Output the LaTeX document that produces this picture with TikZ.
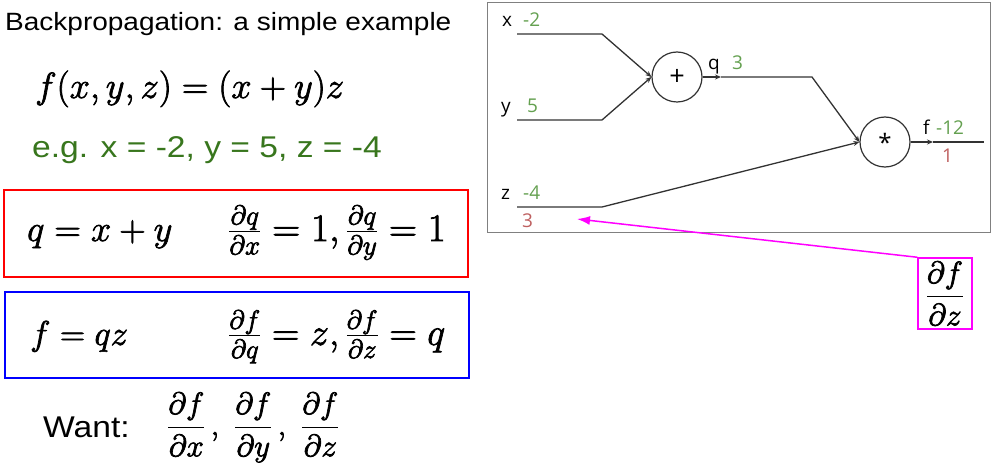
\RequirePackage{fix-cm}
\documentclass[tikz,border=0pt]{standalone}
\usepackage{fontspec}
\usepackage{amsmath}
\usetikzlibrary{arrows.meta}
\newfontfamily\arialw[FakeStretch=1.12]{Liberation Sans}
\newfontfamily\gfont{Open Sans}
\definecolor{egreen}{RGB}{56,118,29}
\definecolor{ggreen}{RGB}{100,160,80}
\definecolor{gred}{RGB}{190,95,95}
\definecolor{gline}{RGB}{50,50,50}
\definecolor{mag}{RGB}{255,0,255}
\newcommand{\heavy}[1]{\special{pdf:literal 2 Tr 0.7 w}#1\special{pdf:literal 0 Tr}}
\begin{document}
\begin{tikzpicture}[x=1pt,y=-1pt,
  txt/.style={inner sep=0pt,anchor=base west},
  glab/.style={inner sep=0pt,anchor=base west,font=\gfont\fontsize{19}{22}\selectfont},
  gnum/.style={glab,text=ggreen},
  grad/.style={glab,text=gred},
  edge/.style={draw=gline,line width=1.3pt},
  tip/.style={-{Stealth[length=6pt,width=5pt]}},
  gate/.style={circle,draw=gline,line width=1.2pt,minimum size=50pt,inner sep=0pt},
  eqbox/.style={line width=1.8pt},
  ]
\useasboundingbox (0,0) rectangle (1004,465);

% left side
\node[txt,font=\arialw\fontsize{25}{30}\selectfont] (title) at (5,31) {Backpropagation: a simple example};
\node[txt,font=\fontsize{36.5}{40}\selectfont] (feq) at (35,98) {\heavy{$f(x,y,z)=(x+y)z$}};
\node[txt,font=\arialw\fontsize{30}{34}\selectfont,text=egreen] (eg) at (32,158) {e.g. x = -2, y = 5, z = -4};

\draw[eqbox,red] (4,190) rectangle (468,277);
\node[txt,font=\fontsize{36.5}{40}\selectfont] (qeq) at (27,241) {\heavy{$q=x+y$}};
\node[txt,font=\fontsize{39}{44}\selectfont] (qder) at (228,241) {\heavy{$\frac{\partial q}{\partial x}=1,\frac{\partial q}{\partial y}=1$}};

\draw[eqbox,blue] (5,292) rectangle (469,378);
\node[txt,font=\fontsize{34.5}{40}\selectfont] (feq2) at (30,345) {\heavy{$f=qz$}};
\node[txt,font=\fontsize{38}{44}\selectfont] (fder) at (228,345) {\heavy{$\frac{\partial f}{\partial q}=z,\frac{\partial f}{\partial z}=q$}};

\node[txt,font=\arialw\fontsize{30}{34}\selectfont] (want) at (43,437) {Want:};
\node[txt,font=\fontsize{31}{36}\selectfont] (wder) at (167,435) {\heavy{$\displaystyle\frac{\partial f}{\partial x}\hspace{5pt},\hspace{10pt}\frac{\partial f}{\partial y}\hspace{5pt},\hspace{10pt}\frac{\partial f}{\partial z}$}};

% graph
\draw[gray,line width=1pt] (487,3) rectangle (990,233);
\node[gate,font=\gfont\fontsize{27}{30}\selectfont] (plus) at (677,77) {+};
\node[gate,font=\gfont\fontsize{24}{28}\selectfont] (mul) at (885,142) {*};

\coordinate (x0) at (517,34);
\coordinate (x1) at (602,34);
\coordinate (y0) at (517,120);
\coordinate (y1) at (602,120);
\coordinate (z0) at (517,207);
\coordinate (z1) at (602,207);
\coordinate (qa) at (721,77);
\coordinate (qb) at (812,77);
\coordinate (fa) at (933,142);
\coordinate (fend) at (984,142);

\draw[edge,tip] (x0) -- (x1) -- (plus.west);
\draw[edge,tip] (y0) -- (y1) -- (plus.west);
\draw[edge,tip] (plus.east) -- (qa);
\draw[edge,tip] (qa) -- (qb) -- (mul.west);
\draw[edge,tip] (z0) -- (z1) -- (mul.west);
\draw[edge,tip] (mul.east) -- (fa);
\draw[edge] (fa) -- (fend);

\node[glab] (xl) at (502,27) {x};
\node[gnum] (xv) at (523,27) {-2};
\node[glab] (yl) at (501,113) {y};
\node[gnum] (yv) at (527,113) {5};
\node[glab] (zl) at (501,200) {z};
\node[gnum] (zv) at (523,200) {-4};
\node[grad] (zg) at (522,228) {3};
\node[glab] (ql) at (708,70) {q};
\node[gnum] (qv) at (732,70) {3};
\node[glab] (fl) at (923,135) {f};
\node[gnum] (fv) at (936,135) {-12};
\node[grad] (fg) at (942,163) {1};

% magenta annotation
\node[draw=mag,line width=1.5pt,inner sep=0pt,minimum width=54pt,minimum height=71pt,font=\fontsize{31}{36}\selectfont] (dfdz) at (945,293.5) {\heavy{$\displaystyle\frac{\partial f}{\partial z}$}};
\coordinate (ztip) at (577,219);
\draw[mag,line width=1.5pt,-{Latex[length=13pt,width=9pt]}] (dfdz.north west) -- (ztip);
\end{tikzpicture}
\end{document}
